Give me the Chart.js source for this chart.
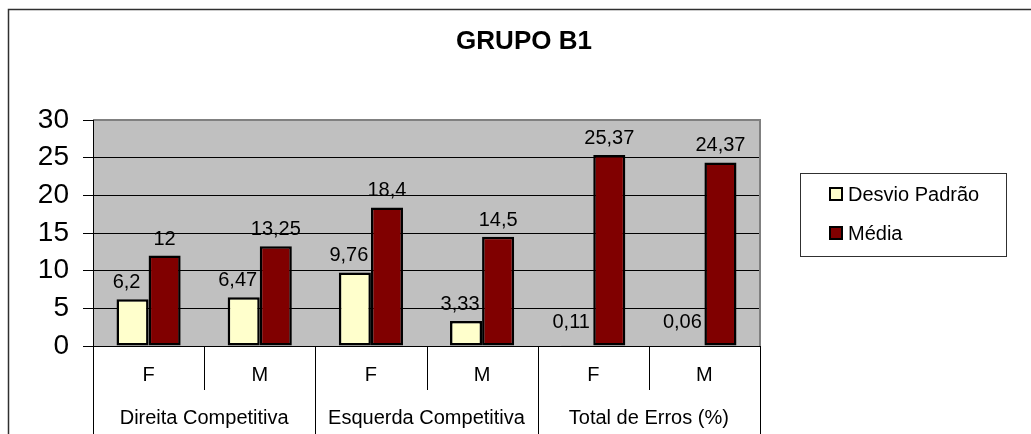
<!DOCTYPE html>
<html><head><meta charset="utf-8">
<script src="https://cdn.jsdelivr.net/npm/chart.js@4.4.0/dist/chart.umd.min.js"></script>
<style>html,body{margin:0;padding:0;background:#fff;overflow:hidden;}</style>
</head><body>
<canvas id="c" width="1031" height="434" style="display:block;width:1031px;height:434px;"></canvas>
<script>
const chartTitle = 'GRUPO B1';
const subCategories = ['F', 'M', 'F', 'M', 'F', 'M'];
const groupLabels = ['Direita Competitiva', 'Esquerda Competitiva', 'Total de Erros (%)'];
const groupSizes = [2, 2, 2];
const seriesNames = ['Desvio Padrão', 'Média'];
const desvioPadrao = [6.2, 6.47, 9.76, 3.33, 0.11, 0.06];
const media = [12, 13.25, 18.4, 14.5, 25.37, 24.37];
const yMin = 0, yMax = 30, yStep = 5;

const FONT = "'Liberation Sans', Arial, Helvetica, sans-serif";
const fmt = v => String(v).replace('.', ',');

const backgroundPlugin = {
  id: 'bg',
  beforeDraw(chart) {
    const ctx = chart.ctx, a = chart.chartArea;
    ctx.save();
    ctx.fillStyle = '#fff';
    ctx.fillRect(0, 0, chart.width, chart.height);
    ctx.fillStyle = '#C0C0C0';
    ctx.fillRect(a.left, a.top, a.right - a.left, a.bottom - a.top);
    ctx.strokeStyle = '#303030';
    ctx.lineWidth = 1.5;
    ctx.strokeRect(8.5, 9.5, chart.width + 20, chart.height + 20);
    ctx.restore();
  }
};

const decorPlugin = {
  id: 'decor',
  afterDatasetsDraw(chart) {
    const ctx = chart.ctx;
    const y = chart.scales.y;
    ctx.save();
    ctx.font = '20px ' + FONT;
    ctx.fillStyle = '#000';
    ctx.textAlign = 'center';
    ctx.textBaseline = 'alphabetic';
    const base = y.getPixelForValue(0);
    chart.data.datasets.forEach((ds, di) => {
      const meta = chart.getDatasetMeta(di);
      meta.data.forEach((bar, i) => {
        const dx = di === 0 ? -6 : 0;
        const by = Math.min(bar.y - 11, base - 18);
        ctx.fillText(fmt(ds.data[i]), bar.x + dx, by);
      });
    });
    ctx.restore();
  },
  afterDraw(chart) {
    const ctx = chart.ctx, a = chart.chartArea;
    const x = chart.scales.x;
    ctx.save();
    ctx.strokeStyle = '#808080';
    ctx.lineWidth = 2;
    ctx.beginPath();
    ctx.moveTo(a.left, a.top);
    ctx.lineTo(a.right, a.top);
    ctx.lineTo(a.right, a.bottom);
    ctx.stroke();
    ctx.strokeStyle = '#000';
    ctx.lineWidth = 1;
    ctx.beginPath();
    ctx.moveTo(a.left + 0.5, a.top);
    ctx.lineTo(a.left + 0.5, a.bottom);
    ctx.moveTo(a.left, a.bottom + 0.5);
    ctx.lineTo(a.right, a.bottom + 0.5);
    ctx.stroke();
    const n = subCategories.length;
    const w = (x.getPixelForValue(1) - x.getPixelForValue(0));
    const groupEdges = new Set([0]);
    let acc = 0;
    groupSizes.forEach(s => { acc += s; groupEdges.add(acc); });
    ctx.beginPath();
    for (let i = 0; i <= n; i++) {
      const px = Math.round(x.getPixelForValue(i) - w / 2) + 0.5;
      ctx.moveTo(px, a.bottom);
      ctx.lineTo(px, groupEdges.has(i) ? chart.height : a.bottom + 44);
    }
    ctx.stroke();
    ctx.font = '20px ' + FONT;
    ctx.fillStyle = '#000';
    ctx.textAlign = 'center';
    ctx.textBaseline = 'middle';
    let start = 0;
    groupLabels.forEach((g, gi) => {
      const end = start + groupSizes[gi] - 1;
      const cx = (x.getPixelForValue(start) + x.getPixelForValue(end)) / 2;
      ctx.fillText(g, cx, a.bottom + 72);
      start += groupSizes[gi];
    });
    ctx.font = 'bold 26px ' + FONT;
    ctx.fillText(chartTitle, 524, 42);
    const lx = 800, ly = 173, lw = 206, lh = 83;
    ctx.strokeStyle = '#303030';
    ctx.lineWidth = 1;
    ctx.strokeRect(lx + 0.5, ly + 0.5, lw, lh);
    ctx.font = '20px ' + FONT;
    ctx.textAlign = 'left';
    chart.data.datasets.forEach((ds, di) => {
      const cy = ly + 21 + di * 39;
      ctx.fillStyle = ds.backgroundColor;
      ctx.fillRect(830, cy - 6, 12, 12);
      ctx.strokeStyle = '#000';
      ctx.lineWidth = 2;
      ctx.strokeRect(830, cy - 6, 12, 12);
      ctx.fillStyle = '#000';
      ctx.fillText(ds.label, 848, cy + 1);
    });
    ctx.restore();
  }
};

new Chart(document.getElementById('c'), {
  type: 'bar',
  data: {
    labels: subCategories,
    datasets: [
      { label: seriesNames[0], data: desvioPadrao, backgroundColor: '#FFFFCC', borderColor: '#000', borderWidth: 2.5, borderSkipped: false },
      { label: seriesNames[1], data: media, backgroundColor: '#800000', borderColor: '#000', borderWidth: 2.5, borderSkipped: false }
    ]
  },
  options: {
    responsive: false,
    animation: false,
    devicePixelRatio: 1,
    layout: { padding: { left: 0, top: 120, right: 271, bottom: 0 } },
    datasets: { bar: { categoryPercentage: 0.577, barPercentage: 1.0 } },
    plugins: { legend: { display: false }, title: { display: false }, tooltip: { enabled: false } },
    scales: {
      x: {
        offset: true,
        grid: { display: false, drawTicks: false },
        border: { display: false },
        ticks: { color: '#000', font: { size: 20, family: FONT }, padding: 17, autoSkip: false, maxRotation: 0 },
        afterFit(s) { s.height = 88; }
      },
      y: {
        min: yMin, max: yMax,
        ticks: { stepSize: yStep, color: '#000', font: { size: 28, family: FONT }, padding: 14 },
        grid: { color: '#000', lineWidth: 1, tickLength: 10, drawTicks: true },
        border: { display: true, color: '#000', width: 1 },
        afterFit(s) { s.width = 93; }
      }
    }
  },
  plugins: [backgroundPlugin, decorPlugin]
});
</script>
</body></html>
